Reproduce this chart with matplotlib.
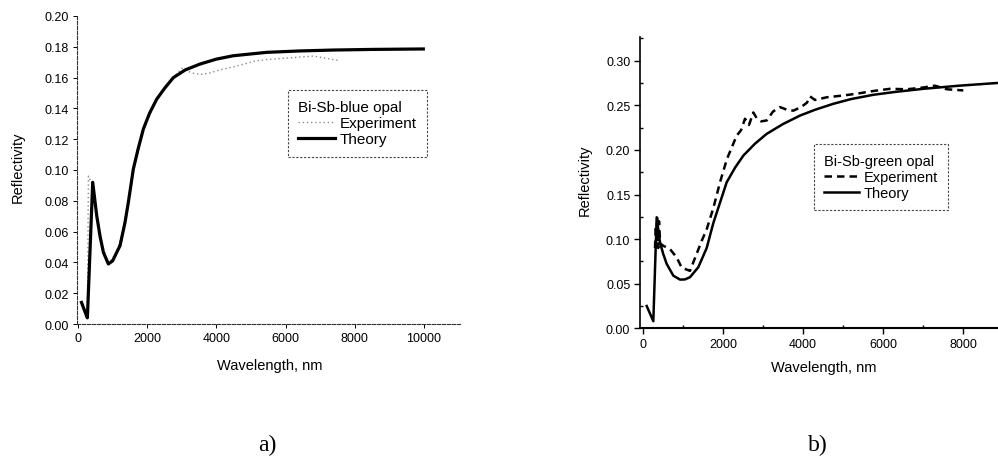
import matplotlib
matplotlib.use("Agg")
import matplotlib.pyplot as plt
from matplotlib.ticker import MultipleLocator, FormatStrFormatter

plt.rcParams['font.family'] = ['Liberation Sans', 'DejaVu Sans']

# ---------------- panel a) Bi-Sb-blue opal ----------------
theory_a_x = [100, 200, 270, 424, 540, 636, 733, 876, 1000, 1118, 1214, 1358, 1454,
              1598, 1740, 1888, 2070, 2274, 2500, 2755, 3100, 3526, 4000, 4489, 5453,
              6400, 7380, 8500, 9980]
theory_a_y = [0.014, 0.008, 0.004, 0.092, 0.0703, 0.057, 0.0465, 0.039, 0.041, 0.0465,
              0.0509, 0.066, 0.079, 0.1006, 0.114, 0.1266, 0.137, 0.146, 0.153, 0.160,
              0.165, 0.1688, 0.172, 0.1742, 0.1764, 0.1773, 0.1779, 0.1783, 0.1786]

exp_a_x = [100, 270, 300, 420, 640, 880, 1120, 1360, 1600, 1890, 2270, 2750, 3000,
           3300, 3530, 3800, 4100, 4500, 5160, 5600, 6220, 6800, 7300, 7570]
exp_a_y = [0.015, 0.004, 0.096, 0.090, 0.056, 0.039, 0.047, 0.066, 0.100, 0.126,
           0.146, 0.160, 0.166, 0.163, 0.162, 0.163, 0.165, 0.167, 0.171, 0.172,
           0.173, 0.174, 0.172, 0.171]

# ---------------- panel b) Bi-Sb-green opal ----------------
theory_b_x = [92, 258, 342, 425, 508, 592, 758, 925, 1050, 1175, 1383, 1592, 1758,
              2092, 2300, 2508, 2800, 3092, 3500, 3925, 4300, 4758, 5200, 5758, 6300,
              7008, 7900, 8842]
theory_b_y = [0.025, 0.008, 0.1245, 0.0963, 0.083, 0.0722, 0.059, 0.0546, 0.0548,
              0.0573, 0.0685, 0.090, 0.118, 0.1637, 0.180, 0.1936, 0.207, 0.218,
              0.229, 0.2385, 0.245, 0.2517, 0.257, 0.2618, 0.265, 0.2685, 0.272, 0.275]

exp_b_x = [300, 320, 340, 360, 380, 400, 430, 508, 675, 842, 967, 1175, 1467, 1592,
           1760, 1925, 2100, 2342, 2450, 2550, 2650, 2758, 2850, 2950, 3092, 3250,
           3425, 3600, 3758, 3950, 4100, 4175, 4300, 4592, 5000, 5342, 5750, 6175,
           6600, 7008, 7300, 7600, 8008]
exp_b_y = [0.09, 0.115, 0.10, 0.125, 0.09, 0.12, 0.095, 0.0925, 0.0888, 0.0794, 0.068,
           0.0644, 0.098, 0.111, 0.135, 0.1637, 0.19, 0.216, 0.222, 0.235, 0.228,
           0.242, 0.235, 0.232, 0.233, 0.243, 0.248, 0.245, 0.244, 0.248, 0.253,
           0.260, 0.256, 0.259, 0.261, 0.263, 0.266, 0.2685, 0.268, 0.270, 0.272,
           0.268, 0.2667]

legend_a_title = "Bi-Sb-blue opal"
legend_b_title = "Bi-Sb-green opal"
series_labels = ["Experiment", "Theory"]
xlabel = "Wavelength, nm"
ylabel = "Reflectivity"
panel_labels = ["a)", "b)"]

W, H = 998, 460
fig = plt.figure(figsize=(W / 100, H / 100), dpi=100)

axa = fig.add_axes([77 / W, 1 - 325 / H, (460 - 77) / W, (325 - 17) / H])
axb = fig.add_axes([640 / W, 1 - 329.3 / H, 358 / W, (329.3 - 38) / H])

# ---- panel a ----
axa.plot(exp_a_x, exp_a_y, linestyle=(0, (1, 2)), color='#8a8a8a', lw=1.0,
         label=series_labels[0])
axa.plot(theory_a_x, theory_a_y, color='black', lw=2.3, label=series_labels[1],
         solid_joinstyle='round')
axa.set_xlim(-30, 11040)
axa.set_ylim(0, 0.20)
axa.xaxis.set_major_locator(MultipleLocator(2000))
axa.yaxis.set_major_locator(MultipleLocator(0.02))
axa.yaxis.set_major_formatter(FormatStrFormatter('%.2f'))
for s in ['top', 'right']:
    axa.spines[s].set_visible(False)
for s in ['left', 'bottom']:
    axa.spines[s].set_linestyle((0, (3, 1.5)))
    axa.spines[s].set_linewidth(0.8)
    axa.spines[s].set_color('#333333')
axa.tick_params(direction='out', length=3, width=0.7, labelsize=9, pad=3)
axa.set_xlabel(xlabel, fontsize=10.5)
axa.set_ylabel(ylabel, fontsize=10.5)
axa.xaxis.set_label_coords(0.504, -0.112)
axa.yaxis.set_label_coords(-0.136, 0.513)

lega = axa.legend(title=legend_a_title, loc='upper left', bbox_to_anchor=(0.530, 0.786),
                  fontsize=11, title_fontsize=11, alignment='left',
                  handlelength=2.4, handletextpad=0.3, labelspacing=0.12,
                  borderpad=0.7, fancybox=False, framealpha=1, edgecolor='#444444')
lega.get_frame().set_linestyle((0, (2, 1.5)))
lega.get_frame().set_linewidth(0.8)

# ---- panel b ----
axb.plot(exp_b_x, exp_b_y, linestyle=(0, (3, 2)), color='black', lw=1.8,
         label=series_labels[0])
axb.plot(theory_b_x, theory_b_y, color='black', lw=1.8, label=series_labels[1],
         solid_joinstyle='round')
axb.set_xlim(-75, 8875)
axb.set_ylim(0, 0.3266)
axb.xaxis.set_major_locator(MultipleLocator(2000))
axb.xaxis.set_minor_locator(MultipleLocator(1000))
axb.yaxis.set_major_locator(MultipleLocator(0.05))
axb.yaxis.set_minor_locator(MultipleLocator(0.025))
axb.yaxis.set_major_formatter(FormatStrFormatter('%.2f'))
for s in ['top', 'right']:
    axb.spines[s].set_visible(False)
axb.spines['left'].set_linewidth(1.2)
axb.spines['bottom'].set_linewidth(1.5)
axb.tick_params(which='major', direction='out', length=4, width=1, labelsize=9, pad=3)
axb.tick_params(which='minor', direction='in', length=2.5, width=1)
axb.set_xlabel(xlabel, fontsize=10.5)
axb.set_ylabel(ylabel, fontsize=10.5)
axb.xaxis.set_label_coords(0.514, -0.109)
axb.yaxis.set_label_coords(-0.134, 0.5125)

legb = axb.legend(title=legend_b_title, loc='upper left', bbox_to_anchor=(0.466, 0.657),
                  fontsize=10.5, title_fontsize=10.5, alignment='left',
                  handlelength=2.4, handletextpad=0.3, labelspacing=0.12,
                  borderpad=0.7, fancybox=False, framealpha=1, edgecolor='#444444')
legb.get_frame().set_linestyle((0, (2, 1.5)))
legb.get_frame().set_linewidth(0.8)

# panel letters
fig.text(267 / W, 1 - 445 / H, panel_labels[0], ha='center', va='center',
         fontsize=17, family=['Liberation Serif', 'DejaVu Serif'])
fig.text(818 / W, 1 - 445 / H, panel_labels[1], ha='center', va='center',
         fontsize=17, family=['Liberation Serif', 'DejaVu Serif'])

fig.savefig("out.png", dpi=100)
